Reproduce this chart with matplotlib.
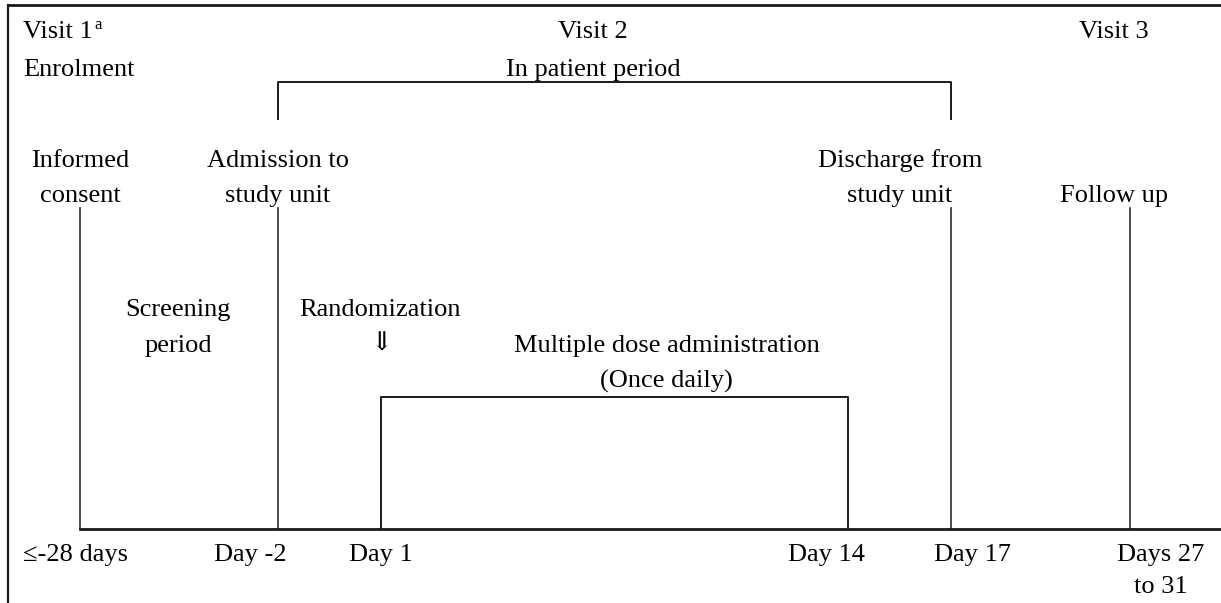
import matplotlib
matplotlib.use("Agg")
from matplotlib import pyplot as plt

plt.rcParams['font.family'] = ['Liberation Serif', 'DejaVu Serif']

# timeline events (x position along the time axis, in pixels of the page)
event_x = [80, 278, 381, 848, 951, 1130]
day_labels = ["\u2264-28 days", "Day -2", "Day 1", "Day 14", "Day 17", "Days 27\nto 31"]
day_label_x = [23, 250, 381, 826, 972, 1161]

# milestone labels standing above the long ticks
milestone_labels = ["Informed\nconsent", "Admission to\nstudy unit", "Discharge from\nstudy unit", "Follow up"]
milestone_x = [80, 278, 900, 1114]

visit_labels = ["Visit 2", "Visit 3"]
visit_x = [593, 1114]

W, H = 1221, 603
fig = plt.figure(figsize=(W / 100, H / 100), dpi=100)
ax = fig.add_axes([0, 0, 1, 1])
ax.set_xlim(0, W)
ax.set_ylim(H, 0)
ax.axis('off')

FS = 19
black = '#1a1a1a'

# frame (top and left)
ax.plot([8, W], [5, 5], color=black, lw=2)
ax.plot([8, 8], [5, H], color=black, lw=1.6)

# baseline
base_y = 529
ax.plot([event_x[0], W], [base_y, base_y], color=black, lw=2)

# long ticks
for x in [event_x[0], event_x[1], event_x[4], event_x[5]]:
    ax.plot([x, x], [208, base_y], color=black, lw=1.1)
# dosing bracket
ax.plot([event_x[2], event_x[2], event_x[3], event_x[3]],
        [base_y, 397, 397, base_y], color=black, lw=1.4)
# in patient bracket
ax.plot([event_x[1], event_x[1], event_x[4], event_x[4]],
        [119, 82, 82, 119], color=black, lw=1.4)

# header texts
ax.text(23, 38, "Visit 1", fontsize=FS, va='baseline', ha='left')
ax.text(94, 29, "a", fontsize=12, va='baseline', ha='left')
ax.text(23, 76, "Enrolment", fontsize=FS, va='baseline', ha='left')
for lab, x in zip(visit_labels, visit_x):
    ax.text(x, 38, lab, fontsize=FS, va='baseline', ha='center')
ax.text(593, 76, "In patient period", fontsize=FS, va='baseline', ha='center')

for lab, x in zip(milestone_labels, milestone_x):
    lines = lab.split("\n")
    if len(lines) == 1:
        ax.text(x, 202, lines[0], fontsize=FS, va='baseline', ha='center')
    else:
        ax.text(x, 167, lines[0], fontsize=FS, va='baseline', ha='center')
        ax.text(x, 202, lines[1], fontsize=FS, va='baseline', ha='center')

ax.text(178, 316, "Screening", fontsize=FS, va='baseline', ha='center')
ax.text(178, 352, "period", fontsize=FS, va='baseline', ha='center')
ax.text(380, 316, "Randomization", fontsize=FS, va='baseline', ha='center')
ax.text(381, 350, "\u21d3", fontsize=FS, va='baseline', ha='center')
ax.text(667, 352, "Multiple dose administration", fontsize=FS, va='baseline', ha='center')
ax.text(666, 388, "(Once daily)", fontsize=FS, va='baseline', ha='center')

# day labels under the axis
for lab, x in zip(day_labels, day_label_x):
    lines = lab.split("\n")
    ha = 'left' if x == day_label_x[0] else 'center'
    ax.text(x, 561, lines[0], fontsize=FS, va='baseline', ha=ha)
    if len(lines) > 1:
        ax.text(x, 593, lines[1], fontsize=FS, va='baseline', ha=ha)

fig.savefig("out.png", dpi=100)
